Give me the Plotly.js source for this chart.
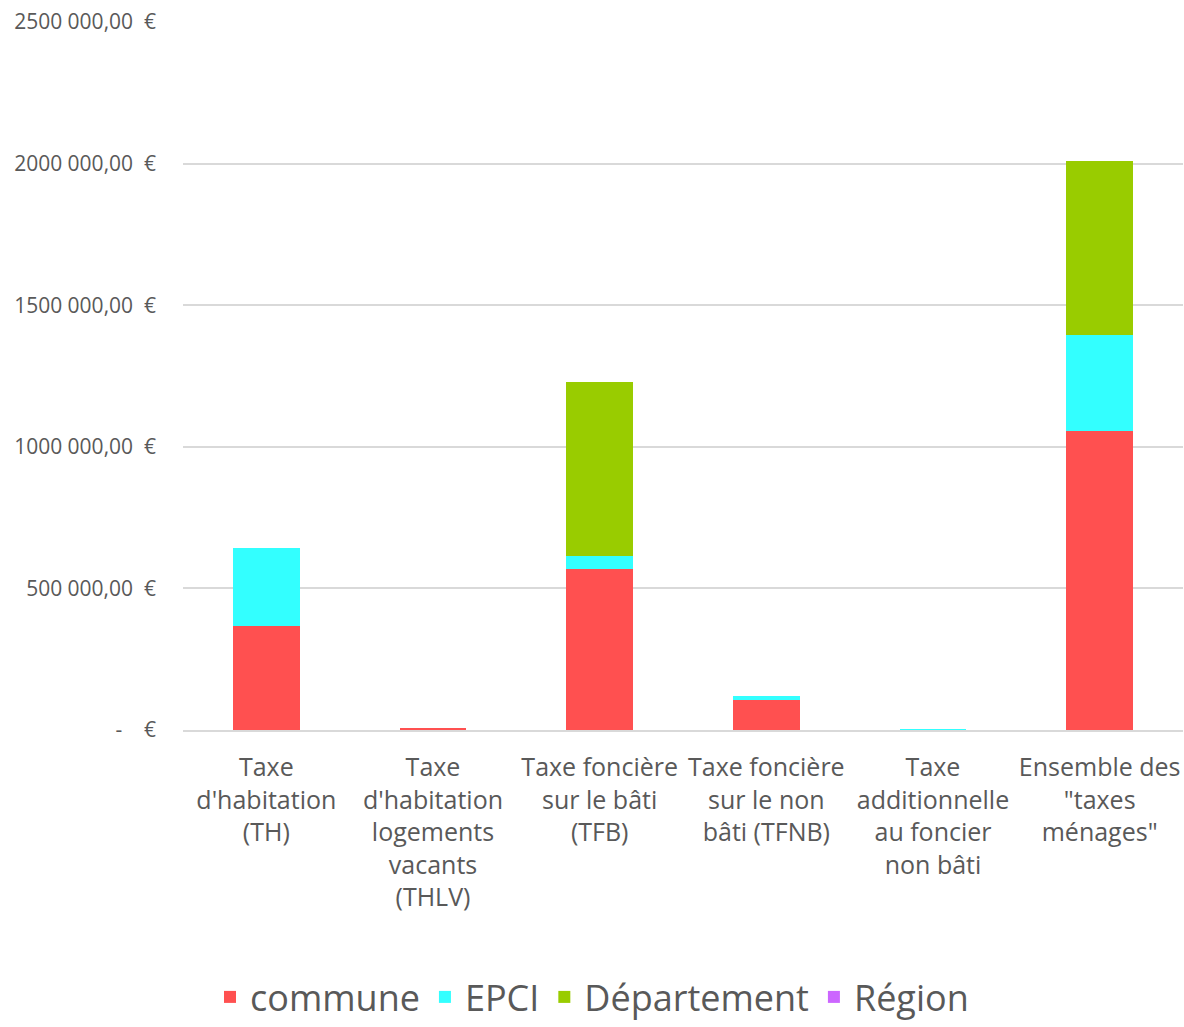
<!DOCTYPE html>
<html>
<head>
<meta charset="utf-8">
<script src="https://cdn.plot.ly/plotly-3.0.1.min.js"></script>
<style>html,body{margin:0;padding:0;background:#fff;}</style>
</head>
<body>
<div id="chart" style="width:1184px;height:1027px;"></div>
<script>
const categories = [
  "Taxe<br>d'habitation<br>(TH)",
  "Taxe<br>d'habitation<br>logements<br>vacants<br>(THLV)",
  "Taxe foncière<br>sur le bâti<br>(TFB)",
  "Taxe foncière<br>sur le non<br>bâti (TFNB)",
  "Taxe<br>additionnelle<br>au foncier<br>non bâti",
  "Ensemble des<br>\"taxes<br>ménages\""
];
const commune = [366000, 6000, 570000, 106000, 0, 1055000];
const epci = [277000, 0, 43000, 13000, 1500, 339000];
const departement = [0, 0, 616000, 0, 0, 614000];
const region = [0, 0, 0, 0, 0, 0];
const tickValues = [0, 500000, 1000000, 1500000, 2000000, 2500000];
const tickLabels = ["-\u00a0\u00a0\u00a0\u00a0€", "500 000,00\u00a0\u00a0€", "1000 000,00\u00a0\u00a0€", "1500 000,00\u00a0\u00a0€", "2000 000,00\u00a0\u00a0€", "2500 000,00\u00a0\u00a0€"];

const font = "'Open Sans', 'Noto Sans', sans-serif";
function bar(name, y, color) {
  return {type: 'bar', name: name, x: categories, y: y, marker: {color: color}, hoverinfo: 'y+name'};
}
const data = [
  bar('commune', commune, '#FF5050'),
  bar('EPCI', epci, '#33FFFF'),
  bar('Département', departement, '#99CC00'),
  bar('Région', region, '#CC66FF')
];
const layout = {
  width: 1184, height: 1027,
  margin: {l: 183, r: 1, t: 22, b: 297},
  barmode: 'stack',
  bargap: 0.6,
  paper_bgcolor: '#fff', plot_bgcolor: '#fff',
  font: {family: font, color: '#595959'},
  xaxis: {
    tickfont: {size: 25, color: '#595959'},
    showgrid: false, showline: true, linecolor: '#d9d9d9', linewidth: 2,
    ticks: '', ticklabelstandoff: 14
  },
  yaxis: {
    range: [0, 2500000],
    tickvals: tickValues, ticktext: tickLabels,
    tickfont: {size: 21, color: '#595959'},
    showgrid: true, gridcolor: '#d9d9d9', gridwidth: 1.5,
    zeroline: false, showline: false, ticks: '',
    ticklabelstandoff: 26
  },
  legend: {
    orientation: 'h', xref: 'container', yref: 'container',
    x: 0.5, xanchor: 'center', y: -0.006, yanchor: 'bottom',
    font: {size: 36, color: '#595959'},
    itemwidth: 30, traceorder: 'normal'
  },
  showlegend: true
};
Plotly.newPlot('chart', data, layout, {displayModeBar: false});
</script>
</body>
</html>
